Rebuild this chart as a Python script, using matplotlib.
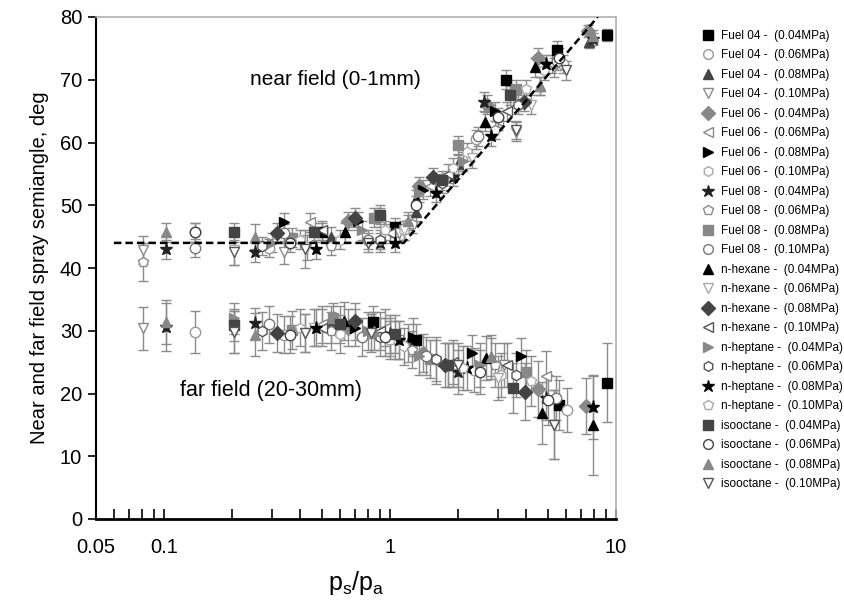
import matplotlib
matplotlib.use("Agg")
import matplotlib.pyplot as plt
from matplotlib.lines import Line2D

plt.rcParams['font.family'] = ['Liberation Sans', 'DejaVu Sans']
plt.rcParams['mathtext.default'] = 'regular'

# series labels (fuel - chamber pressure)
labels = ['Fuel 04 -  (0.04MPa)', 'Fuel 04 -  (0.06MPa)', 'Fuel 04 -  (0.08MPa)', 'Fuel 04 -  (0.10MPa)',
          'Fuel 06 -  (0.04MPa)', 'Fuel 06 -  (0.06MPa)', 'Fuel 06 -  (0.08MPa)', 'Fuel 06 -  (0.10MPa)',
          'Fuel 08 -  (0.04MPa)', 'Fuel 08 -  (0.06MPa)', 'Fuel 08 -  (0.08MPa)', 'Fuel 08 -  (0.10MPa)',
          'n-hexane -  (0.04MPa)', 'n-hexane -  (0.06MPa)', 'n-hexane -  (0.08MPa)', 'n-hexane -  (0.10MPa)',
          'n-heptane -  (0.04MPa)', 'n-heptane -  (0.06MPa)', 'n-heptane -  (0.08MPa)', 'n-heptane -  (0.10MPa)',
          'isooctane -  (0.04MPa)', 'isooctane -  (0.06MPa)', 'isooctane -  (0.08MPa)', 'isooctane -  (0.10MPa)']

# near field (0-1mm), pressure ratio ps/pa vs semiangle
near_x = [[0.50, 1.05, 3.26, 5.5, 9.1], [0.137, 0.29, 1.2, 2.4, 5.8], [0.55, 1.3, 2.0, 4.6, 7.6],
          [0.081, 0.34, 1.1, 3.6, 5.3], [0.65, 1.35, 2.7, 4.5, 7.5], [0.443, 0.9, 1.5, 3.0, 5.2],
          [0.34, 0.72, 1.4, 2.9], [0.6, 1.15, 2.2, 4.8], [0.102, 0.253, 0.9, 1.9, 2.6, 7.9],
          [0.081, 0.55, 1.25, 2.9], [0.37, 0.85, 2.0, 3.6], [0.137, 0.34, 0.8, 2.45, 5.5],
          [0.63, 1.3, 2.63, 4.4], [0.204, 0.43, 1.15, 2.3, 4.2], [0.316, 0.7, 1.55, 3.9],
          [0.5, 1.0, 1.8, 3.3], [0.3, 0.75, 1.35, 2.1], [0.27, 0.9, 1.7, 3.7],
          [0.47, 1.05, 1.6, 2.8, 4.9], [0.4, 0.95, 1.9, 4.0], [0.204, 0.46, 0.9, 1.7, 3.4],
          [0.137, 0.36, 1.3, 3.0, 5.6], [0.102, 0.253, 1.2, 4.6, 7.9], [0.204, 0.42, 0.8, 3.6, 6.0]]
near_y = [[45.7, 46.5, 70.0, 74.7, 77.1], [45.7, 43.2, 47.0, 60.5, 72.5], [45.0, 49.0, 56.5, 69.0, 76.0],
          [42.9, 42.5, 45.5, 61.7, 72.0], [47.5, 53.0, 66.0, 73.5, 77.8], [47.3, 48.0, 53.0, 63.5, 72.5],
          [47.3, 47.5, 52.5, 65.0], [44.5, 46.0, 58.5, 71.5], [43.0, 42.5, 44.0, 54.5, 66.5, 76.5],
          [41.0, 43.5, 47.0, 62.0], [44.8, 48.0, 59.6, 68.5], [43.2, 45.5, 44.5, 61.0, 73.0],
          [45.7, 51.0, 63.3, 72.0], [42.9, 43.3, 46.0, 57.5, 66.0], [45.6, 48.0, 54.5, 66.5],
          [46.0, 45.5, 55.0, 65.0], [44.0, 46.0, 52.0, 57.0], [43.5, 44.5, 53.5, 66.0],
          [43.0, 44.0, 52.0, 61.0, 72.5], [44.5, 46.0, 56.0, 68.5], [45.7, 45.7, 48.5, 54.0, 67.5],
          [45.7, 44.0, 50.0, 64.0, 73.5], [45.7, 45.0, 47.5, 69.0, 77.0], [42.5, 43.0, 44.0, 62.0, 71.5]]
near_err = [[1.5, 1.5, 1.5, 1.5, 1.0], [1.5, 1.5, 1.5, 1.5, 1.5], [1.5, 1.5, 1.5, 1.5, 1.0],
            [2.2, 1.8, 1.5, 1.5, 1.5], [1.5, 1.5, 1.5, 1.5, 1.0], [1.5, 1.5, 1.5, 1.5, 1.5],
            [1.5, 1.5, 1.5, 1.5], [1.5, 1.5, 1.5, 1.5], [1.5, 1.5, 1.5, 1.5, 1.5, 1.0],
            [3.0, 1.5, 1.5, 1.5], [1.5, 1.5, 1.5, 1.5], [1.5, 1.5, 1.5, 1.5, 1.5],
            [1.5, 1.5, 1.5, 1.5], [2.5, 2.0, 1.5, 1.5, 1.5], [1.5, 1.5, 1.5, 1.5],
            [1.5, 1.5, 1.5, 1.5], [1.5, 1.5, 1.5, 1.5], [1.5, 1.5, 1.5, 1.5],
            [1.5, 1.5, 1.5, 1.5, 1.5], [1.5, 1.5, 1.5, 1.5], [1.5, 1.5, 1.5, 1.5, 1.5],
            [1.5, 1.5, 1.5, 1.5, 1.5], [1.5, 2.0, 1.5, 1.5, 1.0], [2.0, 3.0, 1.5, 1.5, 1.5]]

# far field (20-30mm)
far_x = [[0.84, 1.3, 5.6, 9.1], [0.137, 0.34, 1.0, 2.35, 6.1], [0.55, 1.2, 1.8, 2.8],
         [0.081, 0.42, 1.1, 3.2, 5.3], [0.65, 1.4, 4.5, 7.4], [0.5, 0.95, 1.6, 4.9],
         [0.7, 1.27, 2.3, 3.8], [0.6, 1.15, 1.9, 3.1], [0.102, 0.253, 1.0, 2.0, 4.9],
         [0.55, 1.25, 2.9], [0.37, 0.56, 1.5, 4.0], [0.29, 0.75, 1.45, 5.4],
         [0.625, 2.66, 4.7, 7.9], [0.204, 0.46, 1.05, 3.0], [0.316, 0.7, 1.75, 3.96],
         [0.5, 0.9, 1.9, 3.3], [0.204, 0.8, 1.35, 2.5], [0.27, 0.9, 1.6, 3.6],
         [0.47, 1.1, 2.2, 7.9], [0.4, 1.0, 2.1, 4.2], [0.204, 0.6, 1.05, 1.8, 3.5],
         [0.36, 0.95, 2.5, 5.0], [0.102, 0.253, 0.85, 2.8], [0.204, 0.42, 0.82, 2.0, 5.3]]
far_y = [[31.4, 28.5, 18.2, 21.7], [29.8, 29.4, 29.0, 23.7, 17.4], [31.0, 28.0, 24.5, 25.8],
         [30.4, 29.6, 28.5, 24.5, 15.0], [30.5, 26.5, 20.7, 18.0], [31.0, 30.5, 25.0, 22.8],
         [30.5, 29.0, 26.4, 25.9], [29.5, 27.5, 24.5, 23.0], [30.6, 31.2, 29.5, 23.5, 19.3],
         [30.0, 27.0, 24.5], [30.1, 32.0, 25.5, 23.4], [31.0, 29.0, 26.0, 19.3],
         [31.6, 25.6, 16.9, 15.0], [29.8, 30.5, 28.5, 22.5], [29.6, 31.5, 24.5, 20.3],
         [30.5, 30.0, 25.0, 24.5], [32.0, 30.0, 26.0, 24.5], [30.0, 29.0, 25.5, 23.0],
         [30.5, 28.5, 24.0, 17.8], [30.5, 28.5, 24.0, 22.0], [30.9, 31.0, 29.5, 24.5, 20.9],
         [29.4, 29.0, 23.5, 19.0], [31.4, 29.4, 30.0, 25.8], [29.8, 29.6, 29.6, 24.5, 15.0]]
far_err = [[2.5, 2.5, 4.0, 6.3], [3.3, 3.0, 3.0, 3.5, 3.5], [3.0, 3.0, 3.5, 3.0],
           [3.4, 3.0, 3.0, 3.5, 5.5], [3.0, 3.0, 4.5, 4.5], [3.0, 3.0, 3.5, 4.0],
           [3.0, 3.0, 3.0, 3.0], [3.0, 3.0, 3.5, 3.5], [3.8, 2.5, 3.0, 3.5, 3.5],
           [3.0, 3.0, 3.5], [3.0, 2.5, 3.0, 3.5], [3.0, 3.0, 3.0, 3.5],
           [3.0, 3.5, 5.0, 8.0], [3.3, 3.0, 3.0, 3.5], [3.0, 3.0, 3.5, 4.5],
           [3.0, 3.0, 3.5, 3.5], [2.5, 3.0, 3.0, 3.5], [3.0, 3.0, 3.5, 3.5],
           [3.0, 3.0, 3.5, 5.0], [3.0, 3.0, 3.5, 4.0], [2.5, 3.0, 3.0, 3.5, 4.0],
           [3.0, 3.0, 3.5, 4.0], [3.5, 3.5, 3.0, 3.5], [3.3, 3.0, 3.0, 3.5, 5.5]]

# dashed guide line for near field
fit_x = [0.06, 1.15, 8.3]
fit_y = [44, 44, 80]

# marker style per series: (marker, face, edge)
styles = [('s', 'black', 'black'), ('o', 'white', '#9a9a9a'), ('^', '#444444', '#444444'), ('v', 'white', '#8a8a8a'),
          ('D', '#888888', '#888888'), ('<', 'white', '#8a8a8a'), ('>', 'black', 'black'), ('h', 'white', '#aaaaaa'),
          ('*', '#222222', '#222222'), ('p', 'white', '#8a8a8a'), ('s', '#888888', '#888888'), ('o', 'white', '#777777'),
          ('^', 'black', 'black'), ('v', 'white', '#aaaaaa'), ('D', '#444444', '#444444'), ('<', 'white', '#555555'),
          ('>', '#888888', '#888888'), ('h', 'white', '#555555'), ('*', 'black', 'black'), ('p', 'white', '#aaaaaa'),
          ('s', '#444444', '#444444'), ('o', 'white', '#444444'), ('^', '#888888', '#888888'), ('v', 'white', '#555555')]

fig = plt.figure(figsize=(8.44, 6), dpi=100)
ax = fig.add_axes([96 / 844, 81 / 600, 520 / 844, 502 / 600])

for i, (m, fc, ec) in enumerate(styles):
    ms = 9.5 if m == '*' else 7.5
    for xs, ys, es in ((near_x[i], near_y[i], near_err[i]), (far_x[i], far_y[i], far_err[i])):
        ax.errorbar(xs, ys, yerr=es, fmt='none', ecolor='#8c8c8c', elinewidth=1.0,
                    capsize=3.5, capthick=1.0, zorder=2)
        ax.plot(xs, ys, linestyle='none', marker=m, markersize=ms, markerfacecolor=fc,
                markeredgecolor=ec, markeredgewidth=1.0, zorder=3)

ax.plot(fit_x, fit_y, color='black', linestyle=(0, (3, 1.6)), linewidth=1.8, zorder=4)

ax.text(0.24, 70, 'near field (0-1mm)', fontsize=15, va='center', ha='left')
ax.text(0.118, 20.5, 'far field (20-30mm)', fontsize=15.5, va='center', ha='left')

ax.set_xscale('log')
ax.set_xlim(0.05, 10)
ax.set_ylim(0, 80)
ax.set_xticks([0.05, 0.1, 1, 10])
ax.set_xticklabels(['0.05', '0.1', '1', '10'])
ax.set_yticks(range(0, 81, 10))
ax.tick_params(axis='x', which='both', direction='in', length=7, width=1.2, labelsize=14.5, pad=14, top=False)
ax.tick_params(axis='y', which='major', direction='out', length=6, width=1.2, labelsize=14.5, pad=4, right=False)
ax.spines['bottom'].set_linewidth(2)
ax.spines['left'].set_linewidth(1.5)
for s in ('top', 'right'):
    ax.spines[s].set_color('#b0b0b0')
    ax.spines[s].set_linewidth(1.2)

ax.set_xlabel('p$_s$/p$_a$', fontsize=18, labelpad=8)
ax.set_ylabel('Near and far field spray semiangle, deg', fontsize=14.5, labelpad=8)

handles = [Line2D([], [], linestyle='none', marker=m, markersize=(9 if m == '*' else 7),
                  markerfacecolor=fc, markeredgecolor=ec) for m, fc, ec in styles]
fig.legend(handles, labels, loc='upper left', bbox_to_anchor=(702 / 844, 1 - 30 / 600),
           frameon=False, fontsize=8.5, handlelength=1.0, handletextpad=0.6,
           labelspacing=0.635, borderpad=0, borderaxespad=0)

fig.savefig('out.png', dpi=100)
